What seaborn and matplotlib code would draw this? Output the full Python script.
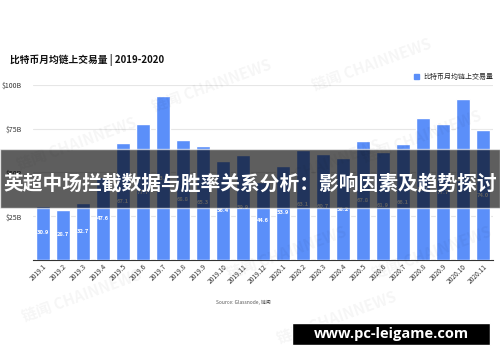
import matplotlib
matplotlib.use("Agg")
import matplotlib.pyplot as plt
import seaborn as sns
import pandas as pd
from matplotlib.patches import Rectangle, Patch

months = ["2019.1", "2019.2", "2019.3", "2019.4", "2019.5", "2019.6", "2019.7", "2019.8",
          "2019.9", "2019.10", "2019.11", "2019.12", "2020.1", "2020.2", "2020.3", "2020.4",
          "2020.5", "2020.6", "2020.7", "2020.8", "2020.9", "2020.10", "2020.11"]
volumes = [30.9, 28.7, 32.7, 47.6, 67.1, 77.7, 93.7, 68.8, 65.3, 56.4, 59.9, 44.6,
           53.9, 63.1, 60.7, 58.2, 67.8, 61.9, 66.1, 81.1, 77.7, 92.2, 74.0]
y_ticks = [0, 25, 50, 75, 100]
y_tick_labels = ["", "$25B", "$50B", "$75B", "$100B"]
series_name = "比特币月均链上交易量"
title = "比特币月均链上交易量 | 2019-2020"
banner = "英超中场拦截数据与胜率关系分析：影响因素及趋势探讨"
source = "Source: Glassnode, 链闻"
site = "www.pc-leigame.com"

sns.set_style("white")
plt.rcParams["font.family"] = ["Noto Sans CJK SC", "DejaVu Sans"]

df = pd.DataFrame({"month": months, "volume": volumes})

fig = plt.figure(figsize=(5, 3.62), dpi=100)
ax = fig.add_axes([0.066, 0.2818, 0.92, 0.4834])

bar_color = "#5B8FF9"
sns.barplot(data=df, x="month", y="volume", color=bar_color, width=0.7,
            saturation=1, ax=ax, zorder=3)

ax.set_xlim(-0.5, len(months) - 0.5)
ax.set_ylim(0, 100)
ax.set_yticks(y_ticks)
ax.set_yticklabels(y_tick_labels, fontsize=5, color="#333333")
ax.yaxis.grid(True, color="#e6e6e6", linewidth=0.8, zorder=0)
ax.tick_params(axis="y", length=0, pad=8)
ax.tick_params(axis="x", length=0, pad=2)
ax.set_xticks(range(len(months)))
ax.set_xticklabels(months, rotation=45, ha="right", rotation_mode="anchor",
                   fontsize=4.8, color="#333333")
ax.set_xlabel("")
ax.set_ylabel("")
for s in ["top", "right", "left"]:
    ax.spines[s].set_visible(False)
ax.spines["bottom"].set_color("#333333")
ax.spines["bottom"].set_linewidth(0.8)

for i, v in enumerate(volumes):
    ax.text(i, v / 2, f"{v:.1f}", ha="center", va="center", fontsize=4.2,
            color="white", fontweight="bold", zorder=4)

ax.legend(handles=[Patch(color=bar_color, label=series_name)], loc="lower right",
          bbox_to_anchor=(1.01, 1.0), frameon=False, fontsize=5,
          handlelength=0.8, handleheight=0.8, handletextpad=0.6, borderaxespad=0.2)

fig.text(0.02, 0.834, title, fontsize=7, fontweight="bold", color="#111111",
         ha="left", va="center")
fig.text(0.432, 0.166, source, fontsize=3.5, color="#555555", ha="left", va="center")

# watermarks
for (x, y) in [(0.03, 0.60), (0.30, 0.76), (0.52, 0.54), (0.62, 0.82), (0.72, 0.62),
               (0.04, 0.18), (0.45, 0.30), (0.74, 0.30), (0.55, 0.12)]:
    fig.text(x, y, "链闻 CHAINNEWS", fontsize=11, fontweight="bold", color="#000000",
             alpha=0.04, rotation=20, ha="left", va="center")

# banner overlay
fig.patches.append(Rectangle((0, 0.4254), 1, 0.1630, transform=fig.transFigure,
                             facecolor="black", alpha=0.63, zorder=10))
fig.text(0.5, 0.494, banner, fontsize=14.2, fontweight="bold", color="white",
         ha="center", va="center", zorder=11)

# site box
fig.patches.append(Rectangle((0.584, 0.047), 0.396, 0.061, transform=fig.transFigure,
                             facecolor="black", zorder=10))
fig.text(0.782, 0.078, site, fontsize=10.5, fontweight="bold", color="white",
         ha="center", va="center", zorder=11, family=["Open Sans", "DejaVu Sans"])

fig.savefig("out.png", dpi=100)
